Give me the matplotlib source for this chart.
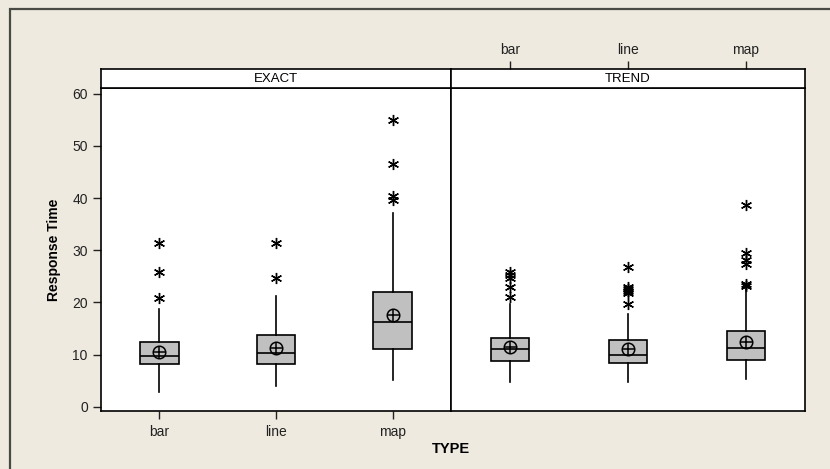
"""Response time by chart type, faceted by task (EXACT / TREND)"""

import matplotlib
matplotlib.use("Agg")
import matplotlib.pyplot as plt
from matplotlib.patches import Rectangle

plt.rcParams['font.family'] = ['Liberation Sans', 'DejaVu Sans']

# Categories
types = ['bar', 'line', 'map']
panels = ['EXACT', 'TREND']

# Box summaries per panel (bar, line, map)
exact_q1 = [8.2, 8.2, 11.1]
exact_med = [9.8, 10.3, 16.2]
exact_q3 = [12.4, 13.8, 22.0]
exact_mean = [10.4, 11.2, 17.5]
exact_whislo = [2.9, 4.0, 5.1]
exact_whishi = [18.8, 21.3, 37.2]
exact_fliers = [[20.8, 25.8, 31.3], [24.6, 31.3], [39.7, 40.3, 46.5, 55.0]]

trend_q1 = [8.7, 8.4, 9.0]
trend_med = [11.0, 9.9, 11.2]
trend_q3 = [13.1, 12.7, 14.5]
trend_mean = [11.4, 11.0, 12.4]
trend_whislo = [4.7, 4.7, 5.3]
trend_whishi = [19.7, 17.8, 22.6]
trend_fliers = [[21.0, 23.0, 24.7, 25.2, 25.9],
                [19.7, 21.8, 22.2, 22.6, 23.0, 26.8],
                [23.2, 23.6, 27.3, 28.2, 29.5, 38.7]]

y_ticks = [0, 10, 20, 30, 40, 50, 60]

BG = '#EEEAE0'
BOX = '#C0C0C0'
W, H = 830, 469


def stats(q1, med, q3, mean, lo, hi, fliers):
    return [dict(q1=a, med=b, q3=c, mean=d, whislo=e, whishi=f, fliers=g)
            for a, b, c, d, e, f, g in zip(q1, med, q3, mean, lo, hi, fliers)]


def fx(px):
    return px / W


def fy(px):
    return 1 - px / H


fig = plt.figure(figsize=(8.3, 4.69), dpi=100, facecolor=BG)

# Outer frame (top and left edges visible)
fig.add_artist(Rectangle((fx(10), -0.1), 1.2, fy(9) + 0.1, transform=fig.transFigure,
                         facecolor='none', edgecolor='#4a4a44', linewidth=1.6))

plot_top, plot_bot, strip_top = 88, 411, 69
edges = [(101, 451), (451, 805)]
data = [stats(exact_q1, exact_med, exact_q3, exact_mean, exact_whislo, exact_whishi, exact_fliers),
        stats(trend_q1, trend_med, trend_q3, trend_mean, trend_whislo, trend_whishi, trend_fliers)]

line_kw = dict(color='black', linewidth=1.2)
for i, ((x0, x1), name, st) in enumerate(zip(edges, panels, data)):
    ax = fig.add_axes([fx(x0), fy(plot_bot), fx(x1 - x0), (plot_bot - plot_top) / H])
    ax.set_facecolor('white')
    ax.bxp(st, positions=[1, 2, 3], widths=0.33, patch_artist=True, showmeans=True,
           showcaps=False,
           boxprops=dict(facecolor=BOX, edgecolor='black', linewidth=1.2),
           medianprops=dict(color='black', linewidth=1.2),
           whiskerprops=line_kw,
           meanprops=dict(marker='o', markerfacecolor='none', markeredgecolor='black',
                          markersize=9, markeredgewidth=1.1),
           flierprops=dict(marker=(6, 2, 0), markeredgecolor='black', markersize=8,
                           markeredgewidth=1.0, linestyle='none'))
    # cross inside mean circle
    ax.plot([1, 2, 3], [s['mean'] for s in st], linestyle='none', marker='+',
            color='black', markersize=9, markeredgewidth=1.1, zorder=5)
    ax.set_xlim(0.5, 3.5)
    ax.set_ylim(-0.83, 61.1)
    for sp in ax.spines.values():
        sp.set_color('black')
        sp.set_linewidth(1.2)
    ax.tick_params(direction='out', length=6, width=1, colors='#222222', labelsize=10)
    if i == 0:
        ax.set_yticks(y_ticks)
        ax.set_ylabel('Response Time', fontsize=10, fontweight='bold', labelpad=8)
        ax.set_xticks([1, 2, 3])
        ax.set_xticklabels(types)
        ax.tick_params(axis='x', pad=4)
    else:
        ax.set_yticks([])
        ax.set_xticks([])

    # strip
    sax = fig.add_axes([fx(x0), fy(plot_top), fx(x1 - x0), (plot_top - strip_top) / H])
    sax.set_facecolor('white')
    sax.set_xlim(0.5, 3.5)
    sax.set_yticks([])
    for sp in sax.spines.values():
        sp.set_color('black')
        sp.set_linewidth(1.2)
    sax.text(0.5, 0.5, name, transform=sax.transAxes, ha='center', va='center', fontsize=9.5)
    if i == 1:
        sax.xaxis.tick_top()
        sax.set_xticks([1, 2, 3])
        sax.set_xticklabels(types)
        sax.tick_params(axis='x', direction='out', length=6, width=1, colors='#222222',
                        labelsize=10, pad=3)
    else:
        sax.set_xticks([])

fig.text(fx(451), fy(449), 'TYPE', ha='center', va='center', fontsize=10.5, fontweight='bold')

fig.savefig('out.png', dpi=100, facecolor=BG)
